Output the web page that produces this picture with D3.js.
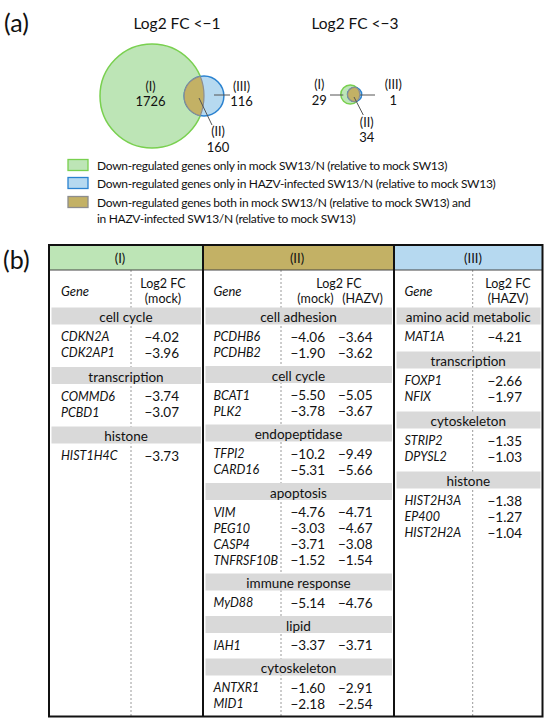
<!DOCTYPE html>
<html>
<head>
<meta charset="utf-8">
<script src="https://cdn.jsdelivr.net/npm/d3@7"></script>
<style>
  body { margin: 0; background: #fff; }
  svg { font-family: Lato, "Open Sans", sans-serif; fill: #111; }
</style>
</head>
<body>
<div id="graf"></div>
<script>
// Data
const setLabels = ["(I)", "(II)", "(III)"]
const vennTitles = ["Log2 FC <\u22121", "Log2 FC <\u22123"]
const countsFc1 = [1726, 160, 116]
const countsFc3 = [29, 34, 1]
const legendTexts = [
  ["Down-regulated genes only in mock SW13/N (relative to mock SW13)"],
  ["Down-regulated genes only in HAZV-infected SW13/N (relative to mock SW13)"],
  ["Down-regulated genes both in mock SW13/N (relative to mock SW13) and",
   "in HAZV-infected SW13/N (relative to mock SW13)"],
]

const groupI = [
  { cat: "cell cycle", genes: ["CDKN2A", "CDK2AP1"], mock: [-4.02, -3.96] },
  { cat: "transcription", genes: ["COMMD6", "PCBD1"], mock: [-3.74, -3.07] },
  { cat: "histone", genes: ["HIST1H4C"], mock: [-3.73] },
]
const groupII = [
  { cat: "cell adhesion", genes: ["PCDHB6", "PCDHB2"], mock: [-4.06, -1.90], hazv: [-3.64, -3.62] },
  { cat: "cell cycle", genes: ["BCAT1", "PLK2"], mock: [-5.50, -3.78], hazv: [-5.05, -3.67] },
  { cat: "endopeptidase", genes: ["TFPI2", "CARD16"], mock: [-10.2, -5.31], hazv: [-9.49, -5.66] },
  { cat: "apoptosis", genes: ["VIM", "PEG10", "CASP4", "TNFRSF10B"], mock: [-4.76, -3.03, -3.71, -1.52], hazv: [-4.71, -4.67, -3.08, -1.54] },
  { cat: "immune response", genes: ["MyD88"], mock: [-5.14], hazv: [-4.76] },
  { cat: "lipid", genes: ["IAH1"], mock: [-3.37], hazv: [-3.71] },
  { cat: "cytoskeleton", genes: ["ANTXR1", "MID1"], mock: [-1.60, -2.18], hazv: [-2.91, -2.54] },
]
const groupIII = [
  { cat: "amino acid metabolic", genes: ["MAT1A"], hazv: [-4.21] },
  { cat: "transcription", genes: ["FOXP1", "NFIX"], hazv: [-2.66, -1.97] },
  { cat: "cytoskeleton", genes: ["STRIP2", "DPYSL2"], hazv: [-1.35, -1.03] },
  { cat: "histone", genes: ["HIST2H3A", "EP400", "HIST2H2A"], hazv: [-1.38, -1.27, -1.04] },
]

// Colores
const verde = "#bde5b6", verdeLinea = "#79d04f"
const azul = "#b6d9f0", azulLinea = "#2a82d0"
const oro = "#c3b165", gris = "#8d8d8d"
const banda = "#d9d9d9"

const anchoTotal = 550
const altoTotal = 724

const svg = d3.select("#graf")
  .append("svg")
  .attr("width", anchoTotal)
  .attr("height", altoTotal)

const fmt = d3.format(".3r")

// Panel letters
svg.append("text").attr("x", 4).attr("y", 22).attr("dominant-baseline", "central")
  .style("font-size", "25px").text("(a)")
svg.append("text").attr("x", 3).attr("y", 259).attr("dominant-baseline", "central")
  .style("font-size", "25px").text("(b)")

// Venn
const r = d3.scaleSqrt()
  .domain([0, countsFc1[0] + countsFc1[1]])
  .range([0, 52])

const venns = [
  { title: vennTitles[0], counts: countsFc1, cx: 152, cy: 96, dx: 52, titleX: 177,
    lab: [
      { t: [-1.5, 0], line: null },
      { t: [66, 45.5], line: [47, 2, 60, 29] },
      { t: [89.5, 0], line: [62, -1, 78, -1] },
    ] },
  { title: vennTitles[1], counts: countsFc3, cx: 350.3, cy: 94.5, dx: 4.3, titleX: 355,
    lab: [
      { t: [-31, 0], line: [-20.3, 0.5, -7, 0.5] },
      { t: [16.4, 37.5], line: [3.7, 2.5, 13, 20.5] },
      { t: [43, 0], line: [9.7, 0.5, 24.7, 0.5] },
    ] },
]

venns.forEach((v, k) => {
  const g = svg.append("g")
  const c = v.counts
  const r1 = r(c[0] + c[1])
  const r2 = r(c[1] + c[2])
  const x2 = v.cx + v.dx

  g.append("text").attr("x", v.titleX).attr("y", 23)
    .attr("text-anchor", "middle").attr("dominant-baseline", "central")
    .style("font-size", "15.5px").text(v.title)

  const clip = svg.append("clipPath").attr("id", "clipVerde" + k)
  clip.append("circle").attr("cx", v.cx).attr("cy", v.cy).attr("r", r1)
  const clip2 = svg.append("clipPath").attr("id", "clipAzul" + k)
  clip2.append("circle").attr("cx", x2).attr("cy", v.cy).attr("r", r2)

  g.append("circle").attr("cx", v.cx).attr("cy", v.cy).attr("r", r1)
    .attr("fill", verde).attr("stroke", verdeLinea).attr("stroke-width", 1.5)
  g.append("circle").attr("cx", x2).attr("cy", v.cy).attr("r", r2)
    .attr("fill", azul).attr("stroke", azulLinea).attr("stroke-width", 1.5)
  g.append("circle").attr("cx", x2).attr("cy", v.cy).attr("r", r2)
    .attr("fill", oro).attr("clip-path", `url(#clipVerde${k})`)
  g.append("circle").attr("cx", x2).attr("cy", v.cy).attr("r", r2)
    .attr("fill", "none").attr("stroke", gris).attr("stroke-width", 1.2)
    .attr("clip-path", `url(#clipVerde${k})`)
  g.append("circle").attr("cx", v.cx).attr("cy", v.cy).attr("r", r1)
    .attr("fill", "none").attr("stroke", gris).attr("stroke-width", 1.2)
    .attr("clip-path", `url(#clipAzul${k})`)

  v.lab.forEach((l, i) => {
    const lx = v.cx + l.t[0]
    const ly = v.cy + l.t[1]
    if (l.line) {
      g.append("line")
        .attr("x1", v.cx + l.line[0]).attr("y1", v.cy + l.line[1])
        .attr("x2", v.cx + l.line[2]).attr("y2", v.cy + l.line[3])
        .attr("stroke", "#555").attr("stroke-width", 1)
    }
    g.append("text").attr("x", lx).attr("y", ly - 10)
      .attr("text-anchor", "middle").attr("dominant-baseline", "central")
      .style("font-size", "12.5px").text(setLabels[i])
    g.append("text").attr("x", lx).attr("y", ly + 5)
      .attr("text-anchor", "middle").attr("dominant-baseline", "central")
      .style("font-size", "13px").text(c[i])
  })
})

// Legend
const legendStyles = [
  { fill: verde, stroke: verdeLinea },
  { fill: azul, stroke: azulLinea },
  { fill: oro, stroke: gris },
]
const legendY = [165, 183, 202]
legendTexts.forEach((lines, i) => {
  svg.append("rect")
    .attr("x", 68).attr("y", legendY[i] - 5.5).attr("width", 20).attr("height", 11)
    .attr("fill", legendStyles[i].fill).attr("stroke", legendStyles[i].stroke)
    .attr("stroke-width", 1.3)
  lines.forEach((line, j) => {
    svg.append("text").attr("x", 97).attr("y", legendY[i] + j * 16)
      .attr("dominant-baseline", "central").style("font-size", "12px")
      .style("letter-spacing", "-0.3px").text(line)
  })
})

// Table
const tTop = 245, tHead = 270, tBottom = 716.5
const cols = [
  { data: groupI, keys: ["mock"], x0: 49, x1: 203, dash: 131, geneX: 61, valX: [179],
    headX: 120, fill: verde, logX: 163, subX: [163], gap: 24 },
  { data: groupII, keys: ["mock", "hazv"], x0: 203, x1: 394, dash: 281, geneX: 213.5, valX: [325, 372.5],
    headX: 297, fill: oro, logX: 339, subX: [315.5, 362.5], gap: 23 },
  { data: groupIII, keys: ["hazv"], x0: 394, x1: 542.5, dash: 472.7, geneX: 404.5, valX: [522],
    headX: 473, fill: azul, logX: 508, subX: [508], gap: 24.5 },
]
const subNames = { mock: "(mock)", hazv: "(HAZV)" }

const tabla = svg.append("g")

cols.forEach((col, k) => {
  const g = tabla.append("g")

  g.append("rect").attr("x", col.x0).attr("y", tTop)
    .attr("width", col.x1 - col.x0).attr("height", tHead - tTop).attr("fill", col.fill)
  g.append("text").attr("x", col.headX).attr("y", 257.5)
    .attr("text-anchor", "middle").attr("dominant-baseline", "central")
    .style("font-size", "13px").text(setLabels[k])

  g.append("line").attr("x1", col.dash).attr("x2", col.dash)
    .attr("y1", tHead).attr("y2", tBottom)
    .attr("stroke", "#9a9a9a").attr("stroke-dasharray", "2,2")

  g.append("text").attr("x", col.geneX).attr("y", 290.5)
    .attr("dominant-baseline", "central").style("font-size", "13px")
    .style("font-style", "italic").text("Gene")
  g.append("text").attr("x", col.logX).attr("y", 283)
    .attr("text-anchor", "middle").attr("dominant-baseline", "central")
    .style("font-size", "12.5px").text("Log2 FC")
  col.keys.forEach((key, i) => {
    g.append("text").attr("x", col.subX[i]).attr("y", 298)
      .attr("text-anchor", "middle").attr("dominant-baseline", "central")
      .style("font-size", "12.5px").text(subNames[key])
  })

  // row layout
  let y = 317
  const bands = []
  const rows = []
  col.data.forEach(d => {
    bands.push({ cat: d.cat, y })
    y += 19.5
    d.genes.forEach((gene, i) => {
      rows.push({ gene, vals: col.keys.map(key => d[key][i]), y })
      y += 16
    })
    y += col.gap - 16
  })

  const b = g.selectAll(".banda").data(bands).join("g").attr("class", "banda")
  b.append("rect").attr("x", col.x0 + 2.5).attr("width", col.x1 - col.x0 - 4.5)
    .attr("y", d => d.y - 9.5).attr("height", 17).attr("fill", banda)
  b.append("text").attr("x", (col.x0 + col.x1) / 2).attr("y", d => d.y)
    .attr("text-anchor", "middle").attr("dominant-baseline", "central")
    .style("font-size", "13.5px").text(d => d.cat)

  const f = g.selectAll(".fila").data(rows).join("g").attr("class", "fila")
  f.append("text").attr("x", col.geneX).attr("y", d => d.y)
    .attr("dominant-baseline", "central").style("font-size", "12.5px")
    .style("font-style", "italic").text(d => d.gene)
  col.keys.forEach((key, i) => {
    f.append("text").attr("x", col.valX[i]).attr("y", d => d.y)
      .attr("text-anchor", "end").attr("dominant-baseline", "central")
      .style("font-size", "13.5px").text(d => fmt(d.vals[i]))
  })
})

tabla.append("line").attr("x1", 49).attr("x2", 542.5).attr("y1", tHead).attr("y2", tHead)
  .attr("stroke", "#444").attr("stroke-width", 1)
tabla.selectAll(".sep").data([203, 394]).join("line").attr("class", "sep")
  .attr("x1", d => d).attr("x2", d => d).attr("y1", tTop).attr("y2", tBottom)
  .attr("stroke", "#111").attr("stroke-width", 2)
tabla.append("rect").attr("x", 49).attr("y", tTop)
  .attr("width", 542.5 - 49).attr("height", tBottom - tTop)
  .attr("fill", "none").attr("stroke", "#111").attr("stroke-width", 2)
</script>
</body>
</html>
